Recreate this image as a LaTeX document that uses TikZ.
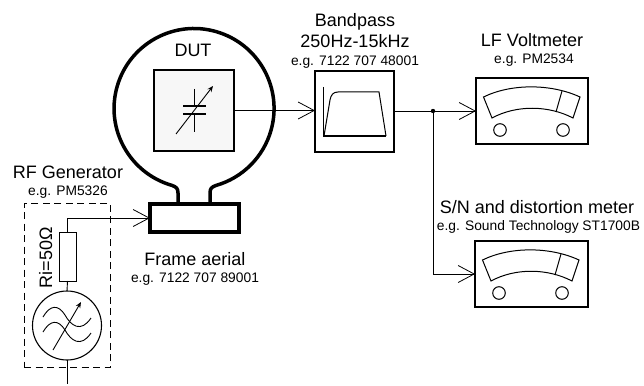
\documentclass[tikz,border=0pt]{standalone}
\usepackage{fontspec}
\setmainfont{Liberation Sans}
\usetikzlibrary{arrows.meta}
\tikzset{
  thinl/.style={line width=0.9pt},
  open/.style={-{Straight Barb[length=16pt,width=17pt,line width=0.8pt]}},
  sharp/.style={-{Stealth[length=6pt,width=5pt]}},
  big/.style={font=\fontsize{18}{18}\selectfont,anchor=base,inner sep=0pt},
  small/.style={font=\fontsize{13.8}{14}\selectfont,anchor=base,inner sep=0pt},
  boxn/.style={draw,rectangle,inner sep=0pt,outer sep=0pt},
}
\newcommand{\meterface}[2]{%
  \begin{scope}[shift={(#1,#2)},line width=1pt]
    \draw (7.5,19) .. controls (35,5.5) and (75,5.5) .. (104,19)
          -- (97,40) .. controls (72,27) and (40,27) .. (16,40) -- cycle;
    \draw (86,13) -- (80,34);
    \draw (24,52) circle[radius=6.3];
    \draw (87,52) circle[radius=6.3];
  \end{scope}}
\begin{document}
\begin{tikzpicture}[x=1pt,y=-1pt]
\useasboundingbox (0,0) rectangle (644,385);
% frame loop
\draw[line width=3.5pt,line join=round] (178,204) -- (178,193) .. controls (178,188) and (176,187) .. (172,185.4)
  arc[start angle=106,end angle=434,radius=80]
  .. controls (212,187) and (210,188) .. (210,193) -- (210,204);
\node[boxn,line width=3.5pt,minimum width=89pt,minimum height=28pt,fill=white] (frame) at (194.5,218) {};
\node[boxn,line width=2pt,fill=black!3,minimum width=80pt,minimum height=80pt] (dut) at (194,110.5) {};
\node[boxn,line width=2pt,minimum width=79pt,minimum height=81pt] (bp) at (354.5,111.5) {};
\node[boxn,line width=1.4pt,minimum width=112pt,minimum height=66pt] (vm) at (532,111) {};
\node[boxn,line width=1.4pt,minimum width=113pt,minimum height=66pt] (dist) at (531.5,274) {};
\node[draw,dashed,dash pattern=on 7pt off 4.5pt,line width=0.7pt,rectangle,inner sep=0pt,outer sep=0pt,minimum width=86pt,minimum height=164pt] (genbox) at (67,285) {};
\node[boxn,line width=0.8pt,minimum width=17pt,minimum height=49pt] (res) at (67.5,256.5) {};
\node[draw,circle,line width=1.1pt,inner sep=0pt,outer sep=0pt,minimum size=69pt] (gen) at (67,325.5) {};
% capacitor
\draw[line width=1.6pt] (183,106) -- (206,106) (183,114) -- (206,114);
\draw[line width=0.9pt] (194,89) -- (194,106) (194,114) -- (194,132);
\draw[thinl,sharp] (176,134) -- (213,86);
% bandpass symbol
\draw[line width=1pt] (323,87) -- (323,136);
\draw[line width=1.4pt] (323,136) -- (386,136);
\draw[line width=1pt] (324,136) -- (330,100) .. controls (331,95) and (333,92) .. (338,92) -- (379,92) -- (386,136);
% meters
\meterface{476}{78}
\meterface{475}{241}
% generator symbol
\draw[line width=0.9pt] (43,317) .. controls (50,305) and (58,304) .. (65,315) .. controls (71,326) and (81,333) .. (91,318);
\draw[line width=0.9pt] (43,332) .. controls (50,320) and (58,319) .. (65,330) .. controls (71,341) and (81,348) .. (91,333);
\draw[thinl,sharp] (53,350) -- (81,302);
% connectors
\draw[thinl,open] (dut.east) -- (dut.east -| bp.west);
\coordinate (junc) at (433,111);
\draw[thinl,open] (bp.east |- vm.west) -- (vm.west);
\fill (junc) circle[radius=2.2];
\draw[thinl,open] (junc) |- (dist.west);
\draw[thinl,open] (res.north) |- (frame.west);
\draw[thinl] (res.south) -- (gen.north);
\coordinate (genin) at (67,384);
\draw[thinl] (gen.south) -- (genin);
% labels
\node[big] (t1) at (68,178) {RF Generator};
\node[small] (t2) at (68,195) {e.g. PM5326};
\node[big] (t3) at (195,265) {Frame aerial};
\node[small] (t4) at (195,282) {e.g. 7122 707 89001};
\node[big] (t5) at (193,57) {DUT};
\node[big] (t6) at (355,27) {Bandpass};
\node[big] (t7) at (355,48) {250Hz-15kHz};
\node[small] (t8) at (355,66) {e.g. 7122 707 48001};
\node[big] (t9) at (532,47) {LF Voltmeter};
\node[small] (t10) at (534,64) {e.g. PM2534};
\node[big] (t11) at (537,213) {S/N and distortion meter};
\node[small] (t12) at (538.5,230) {e.g. Sound Technology ST1700B};
\node[big,rotate=90] (t13) at (52,258) {Ri=50Ω};
\end{tikzpicture}
\end{document}
